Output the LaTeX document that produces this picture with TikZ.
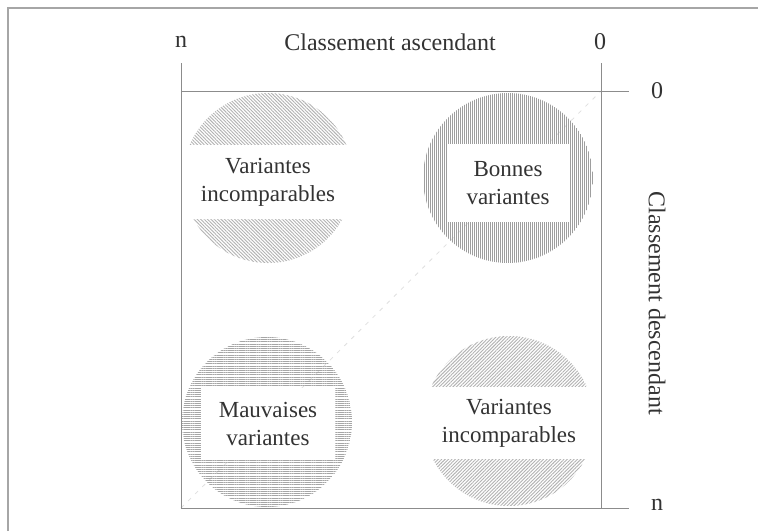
\documentclass[tikz,border=0pt]{standalone}
\usepackage{fontspec}
\setmainfont{Liberation Serif}
\usetikzlibrary{patterns.meta}

\begin{document}
\begin{tikzpicture}[x=0.5pt, y=-0.5pt,
    axe/.style={
        draw=black!45,
        line width=0.5pt
    },
    zone/.style={
        circle,
        minimum size=85pt,
        inner sep=0pt,
        pattern color=black!30
    },
    bande/.style={
        fill=white,
        text=black!80,
        align=center,
        inner sep=0pt,
        font=\fontsize{11.5}{14}\selectfont
    },
    etiquette/.style={
        text=black!80,
        inner sep=0pt,
        font=\fontsize{12}{14}\selectfont
    }
]

\fill[white] (0,0) rectangle (758,531);

\draw[
    black!35,
    line width=0.6pt
]
(8,531) -- (8,8) -- (758,8);

\coordinate (gH) at (181,63);
\coordinate (gB) at (181,508);
\coordinate (dH) at (601,63);
\coordinate (dB) at (601,508);
\coordinate (hD) at (601,91);
\coordinate (hG) at (181,91);
\coordinate (hFin) at (629,91);
\coordinate (bFin) at (629,508);

\draw[
    black!12,
    line width=0.4pt,
    dash pattern=on 2pt off 3pt
]
(gB) -- (hD);

\node[
    zone,
    pattern={Lines[angle=-45,distance=1.2pt,line width=0.45pt]}
]
(cercleIncompHaut) at (268,178) {};

\node[
    zone,
    pattern={Lines[angle=90,distance=1pt,line width=0.45pt]},
    pattern color=black!38
]
(cercleBonnes) at (508,178) {};

\node[
    zone,
    pattern={Lines[angle=0,distance=1.1pt,line width=0.45pt]},
    pattern color=black!35
]
(cercleMauvaises) at (267,422) {};

\node[
    zone,
    pattern={Lines[angle=45,distance=1.2pt,line width=0.45pt]}
]
(cercleIncompBas) at (509,421) {};

\node[
    bande,
    minimum width=86pt,
    minimum height=37pt
]
(texteIncompHaut) at (268,182) {Variantes\\incomparables};

\node[
    bande,
    minimum width=61pt,
    minimum height=39pt
]
(texteBonnes) at (508,183) {Bonnes\\variantes};

\node[
    bande,
    minimum width=67pt,
    minimum height=36pt
]
(texteMauvaises) at (268,424) {Mauvaises\\variantes};

\node[
    bande,
    minimum width=86pt,
    minimum height=36pt
]
(texteIncompBas) at (509,423) {Variantes\\incomparables};

\draw[axe] (gH) -- (gB);
\draw[axe] (dH) -- (dB);
\draw[axe] (hG) -- (hFin);
\draw[axe] (gB) -- (bFin);

\node[etiquette] (nHaut) at (181,42) {n};
\node[etiquette] (titreAsc) at (390,42) {Classement ascendant};
\node[etiquette] (zeroHaut) at (600,42) {0};
\node[etiquette] (zeroDroite) at (657,91) {0};
\node[etiquette] (nDroite) at (657,505) {n};
\node[
    etiquette,
    rotate=-90
]
(titreDesc) at (657,303) {Classement descendant};
\pgfresetboundingbox
\path[use as bounding box] (0,0) rectangle (758,531);
\end{tikzpicture}
\end{document}
